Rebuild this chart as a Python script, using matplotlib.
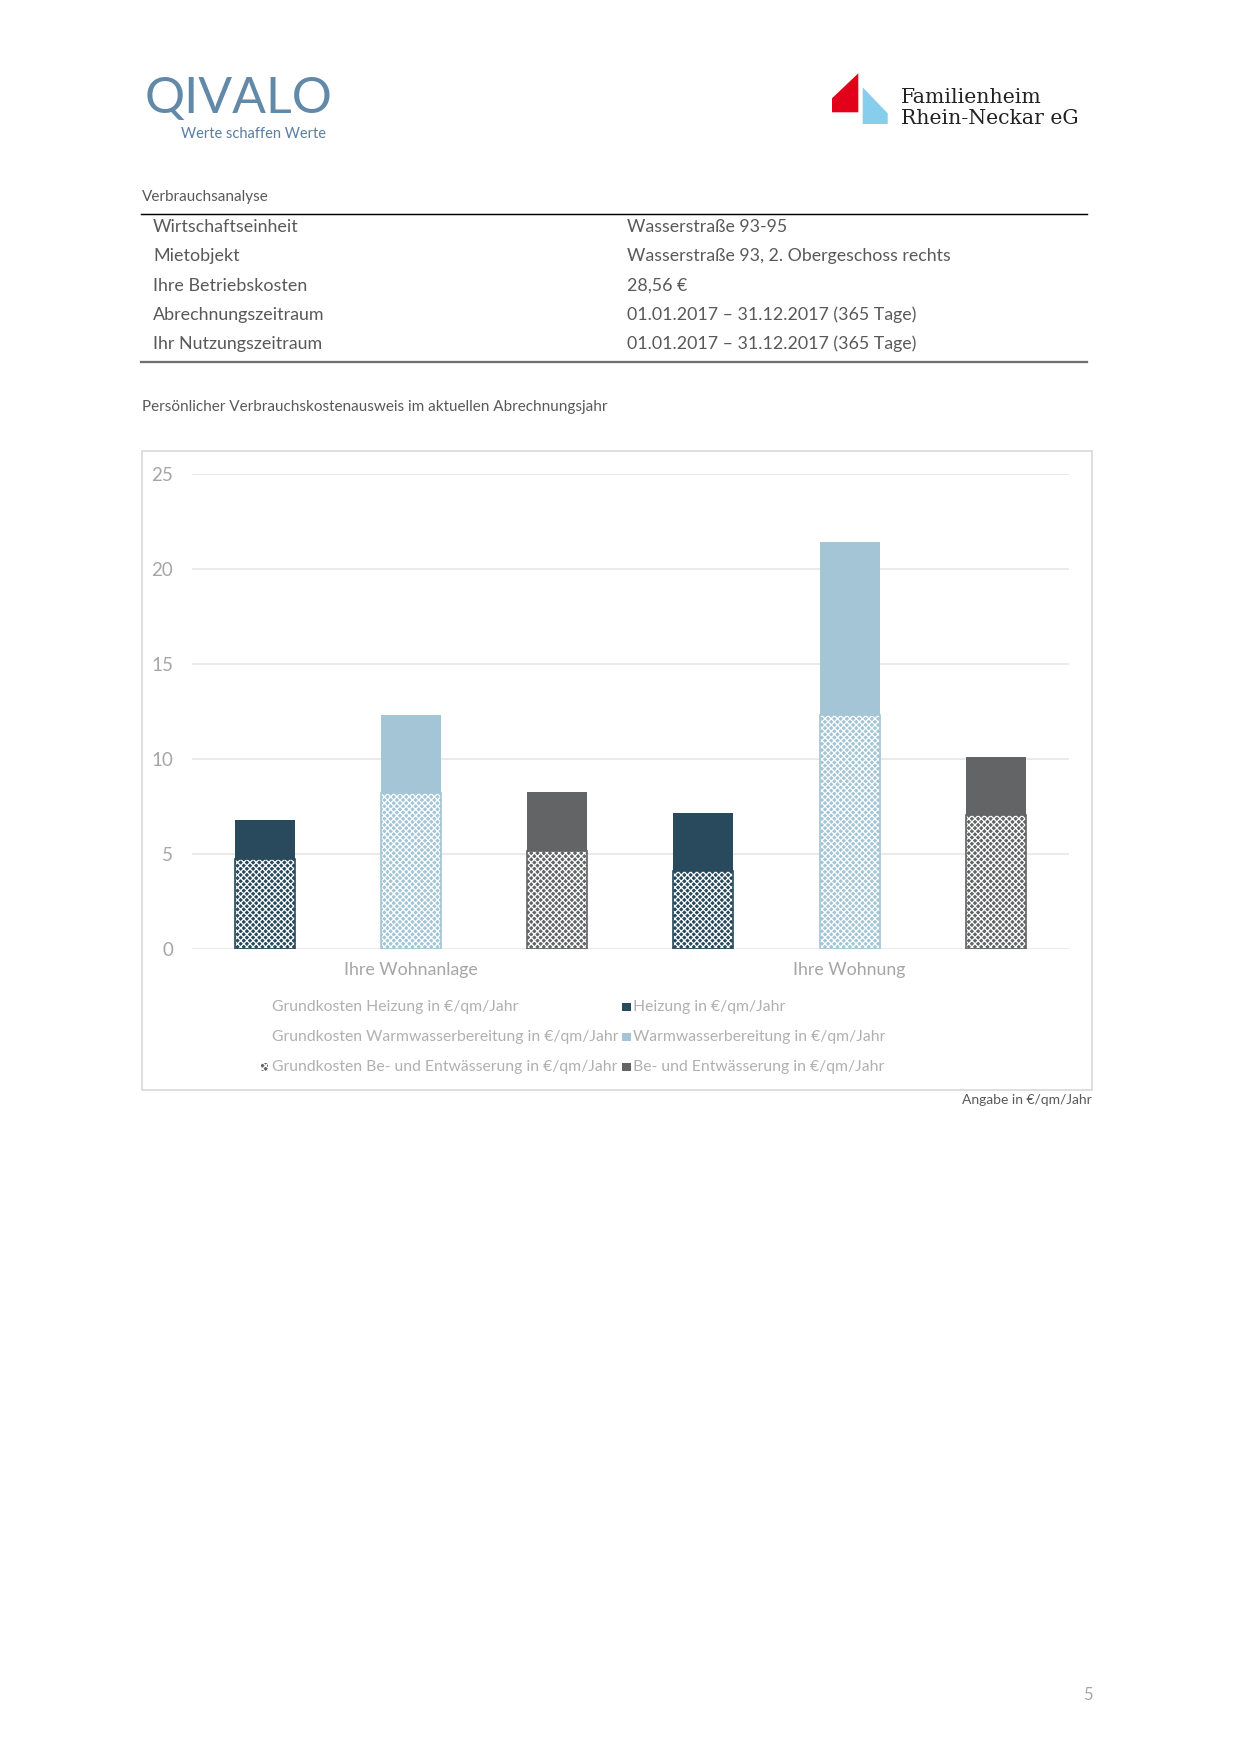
import matplotlib
matplotlib.use("Agg")
import matplotlib.pyplot as plt
from matplotlib.patches import Rectangle, Polygon
import numpy as np

# ---------------- data ----------------
groups = ["Ihre Wohnanlage", "Ihre Wohnung"]
kinds = ["Heizung", "Warmwasserbereitung", "Be- und Entwässerung"]
grund_heizung = [4.72, 4.10]
verbr_heizung = [2.09, 3.09]
grund_ww = [8.22, 12.30]
verbr_ww = [4.08, 9.16]
grund_be = [5.17, 7.04]
verbr_be = [3.09, 3.09]
yticks = [0, 5, 10, 15, 20, 25]

legend_labels = [
    "Grundkosten Heizung in €/qm/Jahr", "Heizung in €/qm/Jahr",
    "Grundkosten Warmwasserbereitung in €/qm/Jahr", "Warmwasserbereitung in €/qm/Jahr",
    "Grundkosten Be- und Entwässerung in €/qm/Jahr", "Be- und Entwässerung in €/qm/Jahr",
]

table_rows = [
    ("Wirtschaftseinheit", "Wasserstraße 93-95"),
    ("Mietobjekt", "Wasserstraße 93, 2. Obergeschoss rechts"),
    ("Ihre Betriebskosten", "28,56 €"),
    ("Abrechnungszeitraum", "01.01.2017 – 31.12.2017 (365 Tage)"),
    ("Ihr Nutzungszeitraum", "01.01.2017 – 31.12.2017 (365 Tage)"),
]

# ---------------- style ----------------
W, H = 1240, 1754
DPI = 150
plt.rcParams['font.family'] = ['Lato', 'DejaVu Sans']
plt.rcParams['hatch.linewidth'] = 0.6

C_HEIZ = "#284a5c"
C_WW = "#a3c5d5"
C_BE = "#636466"
C_TXT = "#595959"
C_LIGHT = "#a6a6a6"
C_LEG = "#b0b0b0"

fig = plt.figure(figsize=(W / DPI, H / DPI), dpi=DPI)


def fx(x):
    return x / W


def fy(y):
    return 1 - y / H


# ---------------- header logos ----------------
fig.text(fx(145), fy(99), "QIVALO", fontsize=24, color="#6289a8", ha="left", va="center")
fig.text(fx(181), fy(134), "Werte schaffen Werte", fontsize=7, color="#5a7fa0", ha="left", va="center")

red = Polygon([(fx(832), fy(98.3)), (fx(858.3), fy(73.3)), (fx(858.3), fy(112.3)), (fx(832), fy(112.3))],
              closed=True, transform=fig.transFigure, facecolor="#e2001a", edgecolor="none")
blue = Polygon([(fx(862.7), fy(87.3)), (fx(887.7), fy(113.3)), (fx(887.7), fy(124)), (fx(862.7), fy(124))],
               closed=True, transform=fig.transFigure, facecolor="#87cdec", edgecolor="none")
fig.patches.extend([red, blue])
fig.text(fx(901), fy(103), "Familienheim", fontsize=9.8, family="DejaVu Serif", color="#222222",
         ha="left", va="baseline")
fig.text(fx(901), fy(123.5), "Rhein-Neckar eG", fontsize=9.8, family="DejaVu Serif", color="#222222",
         ha="left", va="baseline")

# ---------------- table ----------------
fig.text(fx(142), fy(197), "Verbrauchsanalyse", fontsize=7.3, color=C_TXT, ha="left", va="center")
fig.add_artist(plt.Line2D([fx(141), fx(1087)], [fy(214.3), fy(214.3)], color="black", lw=0.7))
fig.add_artist(plt.Line2D([fx(141), fx(1087)], [fy(361.7), fy(361.7)], color="#6f6f6f", lw=1.1))
row_y = [226.7, 256, 286, 315, 344]
for (a, b), yy in zip(table_rows, row_y):
    fig.text(fx(153), fy(yy), a, fontsize=8.6, color=C_TXT, ha="left", va="center")
    fig.text(fx(627), fy(yy), b, fontsize=8.5, color=C_TXT, ha="left", va="center")

fig.text(fx(142), fy(407), "Persönlicher Verbrauchskostenausweis im aktuellen Abrechnungsjahr",
         fontsize=7.3, color=C_TXT, ha="left", va="center")

# ---------------- chart box ----------------
box = Rectangle((fx(142), fy(1090)), fx(1091.7) - fx(142), fy(451) - fy(1090),
                transform=fig.transFigure, facecolor="none", edgecolor="#dcdcdc", lw=0.9)
fig.patches.append(box)

ax_l, ax_r, ax_t, ax_b = 191.7, 1069, 474.4, 949
ax = fig.add_axes([fx(ax_l), fy(ax_b), fx(ax_r) - fx(ax_l), fy(ax_t) - fy(ax_b)])
ax.set_xlim(-0.5, 5.5)
ax.set_ylim(0, 25)
for s in ax.spines.values():
    s.set_visible(False)
ax.set_yticks(yticks)
ax.set_yticklabels([str(v) for v in yticks])
ax.yaxis.grid(True, color="#e6e6e6", lw=0.8)
ax.set_axisbelow(True)
ax.tick_params(axis="y", length=0, pad=9, labelsize=9, labelcolor=C_LIGHT)
ax.set_xticks([1, 4])
ax.set_xticklabels(groups)
ax.tick_params(axis="x", length=0, pad=6, labelsize=8.5, labelcolor=C_LIGHT)

bw = 0.41
series = [
    (np.array([0, 3]), grund_heizung, verbr_heizung, C_HEIZ),
    (np.array([1, 4]), grund_ww, verbr_ww, C_WW),
    (np.array([2, 5]), grund_be, verbr_be, C_BE),
]
for pos, g, v, col in series:
    ax.bar(pos, g, width=bw, color=col, edgecolor="white", lw=0, hatch="xxxxxxxx", zorder=2)
    ax.bar(pos, g, width=bw, fill=False, edgecolor=col, lw=0.8, zorder=3)
    ax.bar(pos, v, bottom=g, width=bw, color=col, edgecolor="none", zorder=2)

# ---------------- legend ----------------
leg_rows = [1007, 1037, 1067]
col1_x, col2_x = 272, 633
colors_leg = [C_HEIZ, C_WW, C_BE]
for i, yy in enumerate(leg_rows):
    # left column (Grundkosten)
    fig.text(fx(col1_x), fy(yy), legend_labels[2 * i], fontsize=7.55, color=C_LEG, ha="left", va="center")
    if i == 2:
        m = Rectangle((fx(261), fy(yy + 4)), fx(268) - fx(261), fy(yy - 4) - fy(yy + 4),
                      transform=fig.transFigure, facecolor=colors_leg[i], edgecolor="white", lw=0,
                      hatch="xxxxxxxx")
        fig.patches.append(m)
    # right column
    m2 = Rectangle((fx(622), fy(yy + 4)), fx(630.5) - fx(622), fy(yy - 4) - fy(yy + 4),
                   transform=fig.transFigure, facecolor=colors_leg[i], edgecolor="none")
    fig.patches.append(m2)
    fig.text(fx(col2_x), fy(yy), legend_labels[2 * i + 1], fontsize=7.55, color=C_LEG, ha="left", va="center")

fig.text(fx(1092), fy(1100), "Angabe in €/qm/Jahr", fontsize=6.7, color=C_TXT, ha="right", va="center")
fig.text(fx(1088), fy(1695), "5", fontsize=8, color=C_LIGHT, ha="center", va="center")

fig.savefig("out.png", dpi=DPI)
